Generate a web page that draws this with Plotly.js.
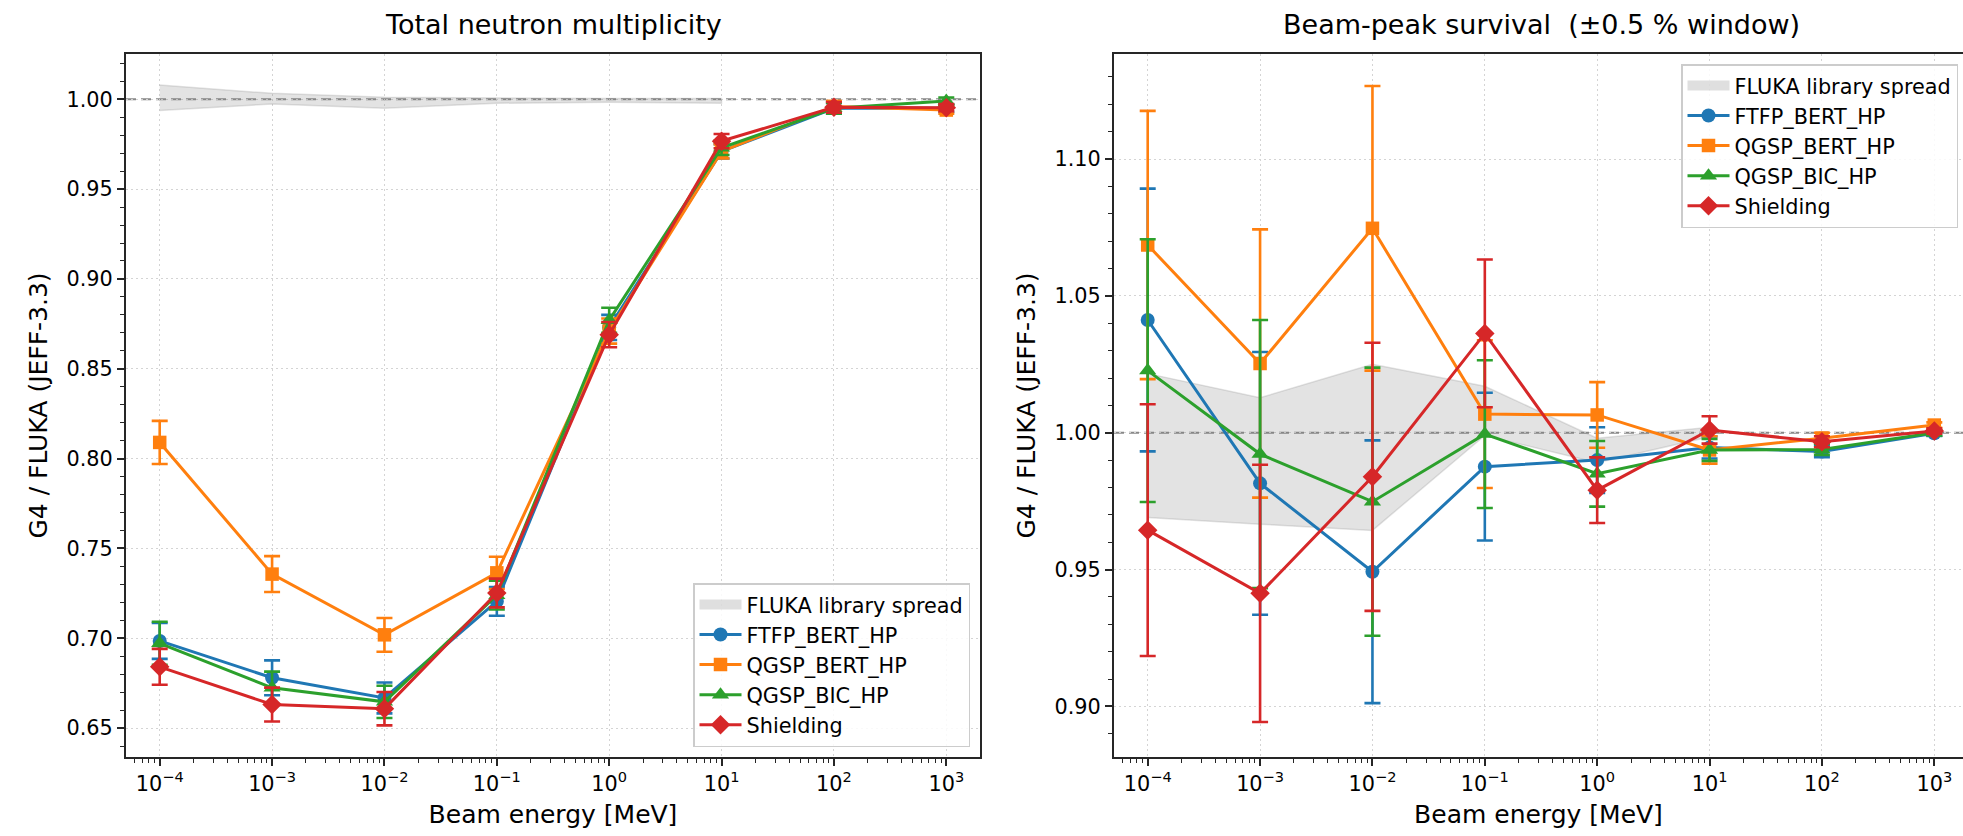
<!DOCTYPE html>
<html>
<head>
<meta charset="utf-8">
<script src="https://cdn.plot.ly/plotly-3.0.1.min.js"></script>
<style>
  html, body { margin: 0; padding: 0; background: #fff; }
  #chart { width: 1963px; height: 836px; }
</style>
</head>
<body>
<div id="chart"></div>
<script>
// ---------------- data ----------------
const energies = [1e-4, 1e-3, 1e-2, 1e-1, 1, 10, 100, 1000];
const physicsLists = ['FTFP_BERT_HP', 'QGSP_BERT_HP', 'QGSP_BIC_HP', 'Shielding'];
const spreadLabel = 'FLUKA library spread';

// Total neutron multiplicity (G4 / FLUKA)
const multFTFP     = [0.6985, 0.6780, 0.6668, 0.7205, 0.873, 0.971, 0.995, 0.995];
const multFTFPErr  = [0.010, 0.0097, 0.0086, 0.008, 0.007, 0.004, 0.003, 0.002];
const multQBERT    = [0.809, 0.7357, 0.7019, 0.7364, 0.871, 0.971, 0.996, 0.994];
const multQBERTErr = [0.012, 0.010, 0.0094, 0.009, 0.007, 0.004, 0.003, 0.002];
const multQBIC     = [0.6972, 0.6724, 0.6646, 0.7240, 0.877, 0.973, 0.995, 0.999];
const multQBICErr  = [0.012, 0.009, 0.009, 0.008, 0.007, 0.004, 0.003, 0.002];
const multShield   = [0.6841, 0.6631, 0.6608, 0.7252, 0.869, 0.9767, 0.9955, 0.9953];
const multShieldErr= [0.010, 0.0094, 0.0093, 0.008, 0.007, 0.004, 0.003, 0.002];

// Beam-peak survival (G4 / FLUKA)
const survFTFP     = [1.0412, 0.9815, 0.9492, 0.9876, 0.990, 0.9946, 0.9931, 0.9998];
const survFTFPErr  = [0.048, 0.048, 0.048, 0.027, 0.012, 0.004, 0.002, 0.001];
const survQBERT    = [1.0686, 1.0253, 1.0747, 1.0068, 1.0065, 0.9937, 0.998, 1.0028];
const survQBERTErr = [0.049, 0.049, 0.052, 0.027, 0.012, 0.005, 0.002, 0.001];
const survQBIC     = [1.0227, 0.9922, 0.9748, 0.9995, 0.985, 0.9937, 0.9939, 1.000];
const survQBICErr  = [0.048, 0.049, 0.049, 0.027, 0.012, 0.004, 0.002, 0.001];
const survShield   = [0.9644, 0.9413, 0.9839, 1.0363, 0.979, 1.001, 0.9967, 1.0006];
const survShieldErr= [0.046, 0.047, 0.049, 0.027, 0.012, 0.005, 0.002, 0.001];

// FLUKA library spread band
const flukaEnergies = [1e-4, 1e-3, 1e-2, 1e-1, 1, 10];
const multSpreadHi = [1.0079, 1.0033, 1.0011, 1.0006, 1.0004, 1.0004];
const multSpreadLo = [0.9937, 0.9974, 0.9950, 0.9978, 0.9983, 0.9978];
const survSpreadHi = [1.0216, 1.0128, 1.0250, 1.0170, 0.9980, 1.0020];
const survSpreadLo = [0.9690, 0.9666, 0.9643, 0.9990, 0.9890, 0.9985];

// tick labels
const xTickVals = [1e-4, 1e-3, 1e-2, 1e-1, 1, 10, 100, 1000];
const xTickText = ['10<sup>−4</sup>', '10<sup>−3</sup>', '10<sup>−2</sup>', '10<sup>−1</sup>',
                   '10<sup>0</sup>', '10<sup>1</sup>', '10<sup>2</sup>', '10<sup>3</sup>'];

// ---------------- style ----------------
const colors = ['#1f77b4', '#ff7f0e', '#2ca02c', '#d62728'];
const symbols = ['circle', 'square', 'triangle-up', 'diamond'];
const msizes = [14, 13.5, 15, 15];
const FONT = 'DejaVu Sans, Verdana, sans-serif';
const W = 1963, H = 836;

const minorVals = [];
for (let k = -5; k <= 3; k++) for (let m = 2; m <= 9; m++) minorVals.push(m * Math.pow(10, k));

const multSeries = [[multFTFP, multFTFPErr], [multQBERT, multQBERTErr], [multQBIC, multQBICErr], [multShield, multShieldErr]];
const survSeries = [[survFTFP, survFTFPErr], [survQBERT, survQBERTErr], [survQBIC, survQBICErr], [survShield, survShieldErr]];

function band(hi, lo, xa, ya, leg) {
  return [{
    x: flukaEnergies.concat(flukaEnergies.slice().reverse()),
    y: hi.concat(lo.slice().reverse()),
    xaxis: xa, yaxis: ya, legend: leg, showlegend: false,
    type: 'scatter', mode: 'lines', fill: 'toself',
    fillcolor: 'rgba(128,128,128,0.22)',
    line: { color: 'rgba(128,128,128,0.22)', width: 1.5 },
    name: spreadLabel, hoverinfo: 'skip'
  }, {
    // legend-only patch entry for the band
    x: [null], y: [null], xaxis: xa, yaxis: ya, legend: leg,
    type: 'scatter', mode: 'lines', name: spreadLabel,
    line: { color: 'rgba(128,128,128,0.25)', width: 14 }
  }];
}

function series(data, xa, ya, leg) {
  return data.map((s, i) => ({
    x: energies, y: s[0], xaxis: xa, yaxis: ya, legend: leg,
    type: 'scatter', mode: 'lines+markers', name: physicsLists[i],
    line: { color: colors[i], width: 3 },
    marker: { symbol: symbols[i], size: msizes[i], color: colors[i], line: { width: 0 } },
    error_y: { type: 'data', array: s[1], visible: true, color: colors[i], thickness: 2.6, width: 8 }
  }));
}

const traces = []
  .concat(band(multSpreadHi, multSpreadLo, 'x', 'y', 'legend'))
  .concat(series(multSeries, 'x', 'y', 'legend'))
  .concat(band(survSpreadHi, survSpreadLo, 'x2', 'y2', 'legend2'))
  .concat(series(survSeries, 'x2', 'y2', 'legend2'));

function xAxis(domain, range, anchor) {
  return {
    type: 'log', domain: domain, range: range, anchor: anchor,
    tickmode: 'array', tickvals: xTickVals, ticktext: xTickText,
    ticks: 'outside', ticklen: 7, tickwidth: 1.7, tickcolor: '#262626',
    minor: { tickmode: 'array', tickvals: minorVals, ticks: 'outside', ticklen: 4, tickwidth: 1.3, tickcolor: '#262626', showgrid: false },
    showline: true, linecolor: '#262626', linewidth: 2.2, mirror: true,
    showgrid: true, gridcolor: '#d4d4d4', gridwidth: 1, griddash: '2px,3px',
    zeroline: false,
    tickfont: { family: FONT, size: 20.8, color: '#000' },
    title: { text: 'Beam energy [MeV]', font: { family: FONT, size: 25, color: '#000' }, standoff: 10 }
  };
}
function yAxis(domain, range, anchor, mirror) {
  return {
    domain: domain, range: range, anchor: anchor,
    tickmode: 'linear', tick0: 0, dtick: 0.05, tickformat: '.2f',
    ticks: 'outside', ticklen: 7, tickwidth: 1.7, tickcolor: '#262626',
    minor: { dtick: 0.01, tick0: 0, ticks: 'outside', ticklen: 4, tickwidth: 1.3, tickcolor: '#262626', showgrid: false },
    showline: true, linecolor: '#262626', linewidth: 2.2, mirror: mirror,
    showgrid: true, gridcolor: '#d4d4d4', gridwidth: 1, griddash: '2px,3px',
    zeroline: false,
    tickfont: { family: FONT, size: 20.8, color: '#000' },
    title: { text: 'G4 / FLUKA (JEFF-3.3)', font: { family: FONT, size: 25, color: '#000' }, standoff: 12 }
  };
}

const yDom = [(H - 757) / H, (H - 54) / H];
const x1Dom = [126 / W, 980 / W];
const x2Dom = [1114 / W, 1];

const legendCommon = {
  font: { family: FONT, size: 20.8, color: '#000' },
  bgcolor: 'rgba(255,255,255,0.85)', bordercolor: '#cccccc', borderwidth: 1.5,
  itemwidth: 42, tracegroupgap: 0
};

const layout = {
  width: W, height: H,
  margin: { l: 0, r: 0, t: 0, b: 0 },
  paper_bgcolor: '#ffffff', plot_bgcolor: '#ffffff',
  showlegend: true,
  font: { family: FONT, color: '#000' },
  xaxis: xAxis(x1Dom, [-4.3, 3.3], 'y'),
  yaxis: yAxis(yDom, [0.6339, 1.0252], 'x', true),
  xaxis2: xAxis(x2Dom, [-4.3, 3.2555], 'y2'),
  yaxis2: yAxis(yDom, [0.8815, 1.1384], 'x2', false),
  legend: Object.assign({ x: 970 / W, xanchor: 'right', y: (H - 747) / H, yanchor: 'bottom' }, legendCommon),
  legend2: Object.assign({ x: 1958 / W, xanchor: 'right', y: (H - 64) / H, yanchor: 'top' }, legendCommon),
  shapes: [
    { type: 'line', xref: 'x domain', yref: 'y', x0: 0, x1: 1, y0: 1, y1: 1, layer: 'below',
      line: { color: '#888888', width: 2, dash: '10px,5px' } },
    { type: 'line', xref: 'x2 domain', yref: 'y2', x0: 0, x1: 1, y0: 1, y1: 1, layer: 'below',
      line: { color: '#888888', width: 2, dash: '10px,5px' } }
  ],
  annotations: [
    { text: 'Total neutron multiplicity', xref: 'paper', yref: 'paper',
      x: (x1Dom[0] + x1Dom[1]) / 2, y: (H - 42) / H, xanchor: 'center', yanchor: 'bottom',
      showarrow: false, font: { family: FONT, size: 27, color: '#000' } },
    { text: 'Beam-peak survival  (±0.5 % window)', xref: 'paper', yref: 'paper',
      x: (1114 + 1968) / 2 / W, y: (H - 42) / H, xanchor: 'center', yanchor: 'bottom',
      showarrow: false, font: { family: FONT, size: 27, color: '#000' } }
  ]
};

Plotly.newPlot('chart', traces, layout, { displayModeBar: false });
</script>
</body>
</html>
